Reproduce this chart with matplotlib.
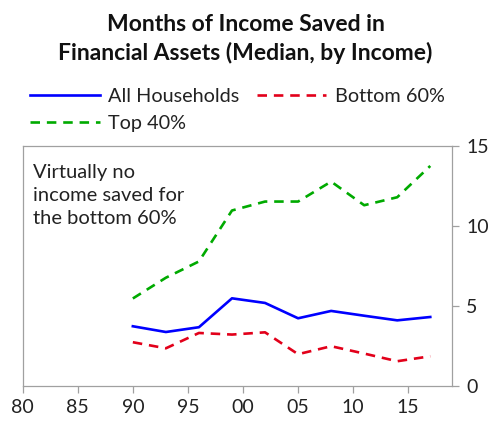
import matplotlib
matplotlib.use('Agg')
import matplotlib.pyplot as plt

plt.rcParams['font.family'] = ['Lato', 'DejaVu Sans']

# survey years (as plotted) and median months of income saved
years = [1990, 1993, 1996, 1999, 2002, 2005, 2008, 2011, 2014, 2017]
all_households = [3.71, 3.35, 3.65, 5.46, 5.17, 4.21, 4.67, 4.37, 4.08, 4.29]
bottom_60 = [2.71, 2.33, 3.29, 3.19, 3.33, 1.96, 2.46, 2.00, 1.52, 1.83]
top_40 = [5.45, 6.75, 7.77, 10.96, 11.52, 11.52, 12.77, 11.29, 11.79, 13.75]

xtick_vals = [1980, 1985, 1990, 1995, 2000, 2005, 2010, 2015]
xtick_labels = ['80', '85', '90', '95', '00', '05', '10', '15']
ytick_vals = [0, 5, 10, 15]

fig = plt.figure(figsize=(4.91, 4.24), dpi=100)
ax = fig.add_axes([0.0462, 0.0908, 0.875, 0.5649])

l_all, = ax.plot(years, all_households, color='#0000ff', lw=1.9,
                 label='All Households')
l_bot, = ax.plot(years, bottom_60, color='#e2001a', lw=1.9,
                 dashes=(3.6, 2.6), label='Bottom 60%')
l_top, = ax.plot(years, top_40, color='#00aa00', lw=1.9,
                 dashes=(3.6, 2.6), label='Top 40%')

ax.set_xlim(1980, 2019)
ax.set_ylim(0, 15)
ax.set_xticks(xtick_vals)
ax.set_xticklabels(xtick_labels)
ax.set_yticks(ytick_vals)
ax.yaxis.tick_right()

for s in ax.spines.values():
    s.set_color('#a0a0a0')
    s.set_linewidth(0.9)
ax.tick_params(axis='both', colors='#a0a0a0', length=5, width=0.9,
               labelsize=14, labelcolor='#222222')
ax.tick_params(axis='x', pad=5)
ax.tick_params(axis='y', pad=5)

ax.text(0.025, 0.925, 'Virtually no\nincome saved for\nthe bottom 60%',
        transform=ax.transAxes, ha='left', va='top', fontsize=14.5,
        color='#222222', linespacing=1.42)

fig.text(0.5, 0.968, 'Months of Income Saved in\nFinancial Assets (Median, by Income)',
         ha='center', va='top', fontsize=16.5, fontweight='bold',
         color='#111111', linespacing=1.38)

leg = fig.legend(handles=[l_all, l_top, l_bot], ncol=2, loc='upper left',
                 bbox_to_anchor=(0.045, 0.812), frameon=False, fontsize=14.3,
                 handlelength=3.5, handletextpad=0.45, columnspacing=0.85,
                 labelspacing=0.5, borderaxespad=0)
for t in leg.get_texts():
    t.set_color('#222222')

fig.savefig('out.png', dpi=100)
